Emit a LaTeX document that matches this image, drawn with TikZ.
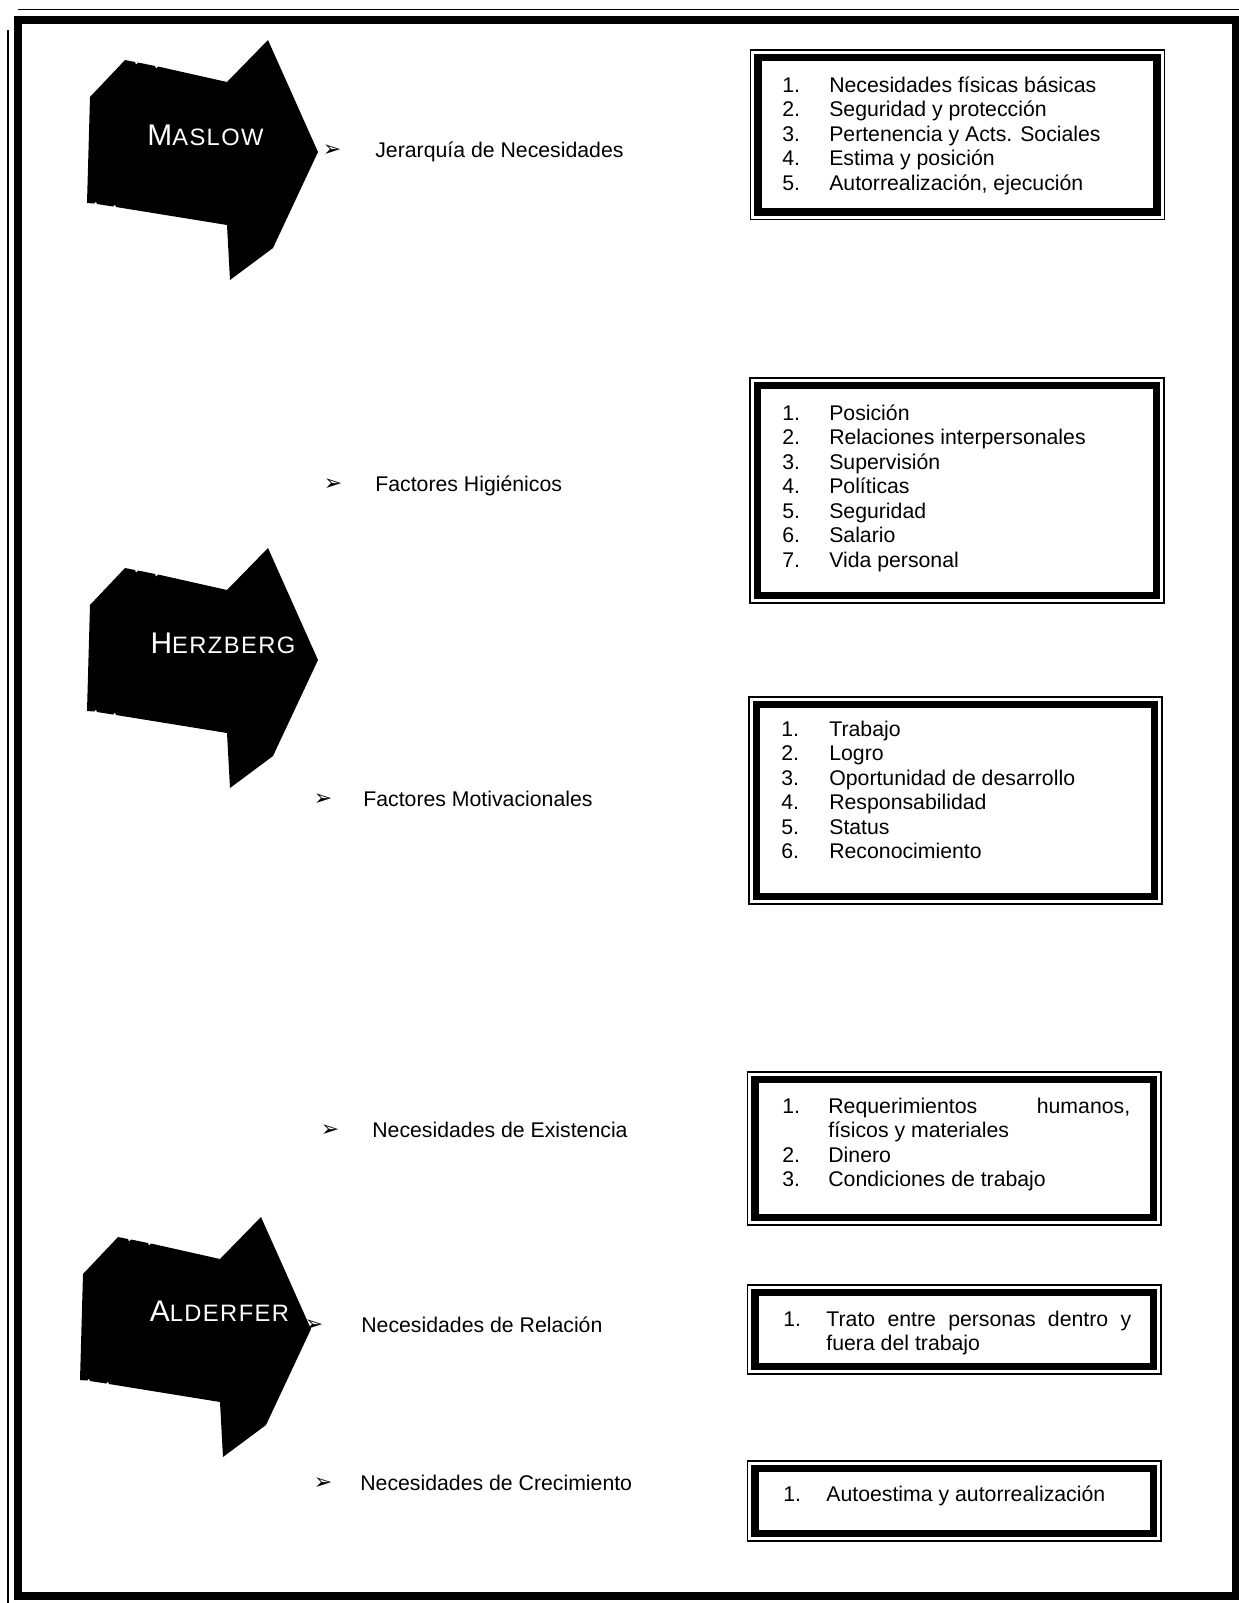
\documentclass[tikz,border=0pt]{standalone}
\usepackage{fontspec}
\setmainfont{Liberation Sans}
\newfontfamily\capsfont[LetterSpace=6]{Liberation Sans}
\newfontfamily\bulletfont{DejaVu Sans}

\newcommand{\capname}[2]{{\capsfont\fontsize{17}{18}\selectfont #1\fontsize{13.5}{14}\selectfont #2}}
\newcommand{\bigarrow}[1]{%
  \fill[black, #1] (3,57) -- (38,20) -- (48,22) -- (49,24.5) -- (51,22.5) -- (68,26) -- (69,28.5) -- (71,26.5)
    -- (140,42) -- (181,0) -- (231,112) -- (186,208) -- (143,240) -- (140,185)
    -- (29,167) -- (28,164.5) -- (26,166.5) -- (10,164) -- (9,161.5) -- (7,163.5) -- (0,163) -- cycle;}
\newcommand{\listbox}[4]{%
  \draw[thinline] (#1,#2) rectangle (#3,#4);
  \draw[thickband] (#1+7.5,#2+7.5) rectangle (#3-7.5,#4-7.5);}

\begin{document}
\begin{tikzpicture}[x=0.02cm, y=-0.02cm,
  thinline/.style={line width=0.85pt},
  thickband/.style={line width=4.2pt},
  leftlabel/.style={anchor=base west, inner sep=0pt, font=\fontsize{12.1}{14}\selectfont},
  listtext/.style={anchor=base west, inner sep=0pt, font=\fontsize{12.1}{14}\selectfont},
  bulletmark/.style={inner sep=0pt, font=\bulletfont\fontsize{12.5}{12.5}\selectfont},
  namelabel/.style={anchor=base, inner sep=0pt, text=white}]
  \useasboundingbox (0,0) rectangle (1239,1603);

  % page frame
  \draw[line width=4.5pt] (18,20) rectangle (1236,1596);
  \draw[thinline] (18,9.5) -- (1239,9.5);
  \draw[thinline] (8,30) -- (8,1603);

  \bigarrow{shift={(87,40)}}
  \bigarrow{shift={(87,548)}}
  \bigarrow{shift={(80,1217)}}
  \node[namelabel] (maslow) at (205.5,145) {\capname{M}{ASLOW}};
  \node[namelabel] (herzberg) at (223,653) {\capname{H}{ERZBERG}};
  \node[namelabel] (alderfer) at (219.5,1321) {\capname{A}{LDERFER}};

  \node[bulletmark] (b1) at (332,151) {➢};
  \node[bulletmark] (b2) at (333,485) {➢};
  \node[bulletmark] (b3) at (323,800) {➢};
  \node[bulletmark] (b4) at (330,1131) {➢};
  \node[bulletmark] (b5) at (314,1326) {➢};
  \node[bulletmark] (b6) at (323,1484) {➢};

  \node[leftlabel] (jerarquia) at (375,157) {Jerarquía de Necesidades};
  \node[leftlabel] (higienicos) at (375,491) {Factores Higiénicos};
  \node[leftlabel] (motivacionales) at (363,806) {Factores Motivacionales};
  \node[leftlabel] (existencia) at (372,1137) {Necesidades de Existencia};
  \node[leftlabel] (relacion) at (361,1332) {Necesidades de Relación};
  \node[leftlabel] (crecimiento) at (360,1490) {Necesidades de Crecimiento};

  \listbox{750.5}{50}{1164.5}{219.5}
  \listbox{750}{378}{1164}{603}
  \listbox{749}{697}{1162}{904}
  \listbox{747.5}{1072}{1161}{1225}
  \listbox{747.5}{1285}{1161}{1374}
  \listbox{747.5}{1461}{1161}{1541}

  \node[listtext] (listamaslow) at (782,92) {\begin{tabular}[t]{@{}p{26.7pt}@{}l@{}}
    1. & Necesidades físicas básicas\\
    2. & Seguridad y protección\\
    3. & Pertenencia y Acts. Sociales\\
    4. & Estima y posición\\
    5. & Autorrealización, ejecución
  \end{tabular}};
  \node[listtext] (listahigiene) at (782,420) {\begin{tabular}[t]{@{}p{26.7pt}@{}l@{}}
    1. & Posición\\
    2. & Relaciones interpersonales\\
    3. & Supervisión\\
    4. & Políticas\\
    5. & Seguridad\\
    6. & Salario\\
    7. & Vida personal
  \end{tabular}};
  \node[listtext] (listamotiva) at (781,736) {\begin{tabular}[t]{@{}p{27.3pt}@{}l@{}}
    1. & Trabajo\\
    2. & Logro\\
    3. & Oportunidad de desarrollo\\
    4. & Responsabilidad\\
    5. & Status\\
    6. & Reconocimiento
  \end{tabular}};
  \node[listtext] (listaexist) at (782,1113) {\begin{tabular}[t]{@{}p{26.2pt}@{}l@{}}
    1. & \makebox[171.8pt][s]{Requerimientos humanos,}\\
       & físicos y materiales\\
    2. & Dinero\\
    3. & Condiciones de trabajo
  \end{tabular}};
  \node[listtext] (listarel) at (783,1326) {\begin{tabular}[t]{@{}p{24.5pt}@{}l@{}}
    1. & \makebox[173.5pt][s]{Trato entre personas dentro y}\\
       & fuera del trabajo
  \end{tabular}};
  \node[listtext] (listacrec) at (783,1501) {\begin{tabular}[t]{@{}p{24.5pt}@{}l@{}}
    1. & Autoestima y autorrealización
  \end{tabular}};
\end{tikzpicture}
\end{document}
